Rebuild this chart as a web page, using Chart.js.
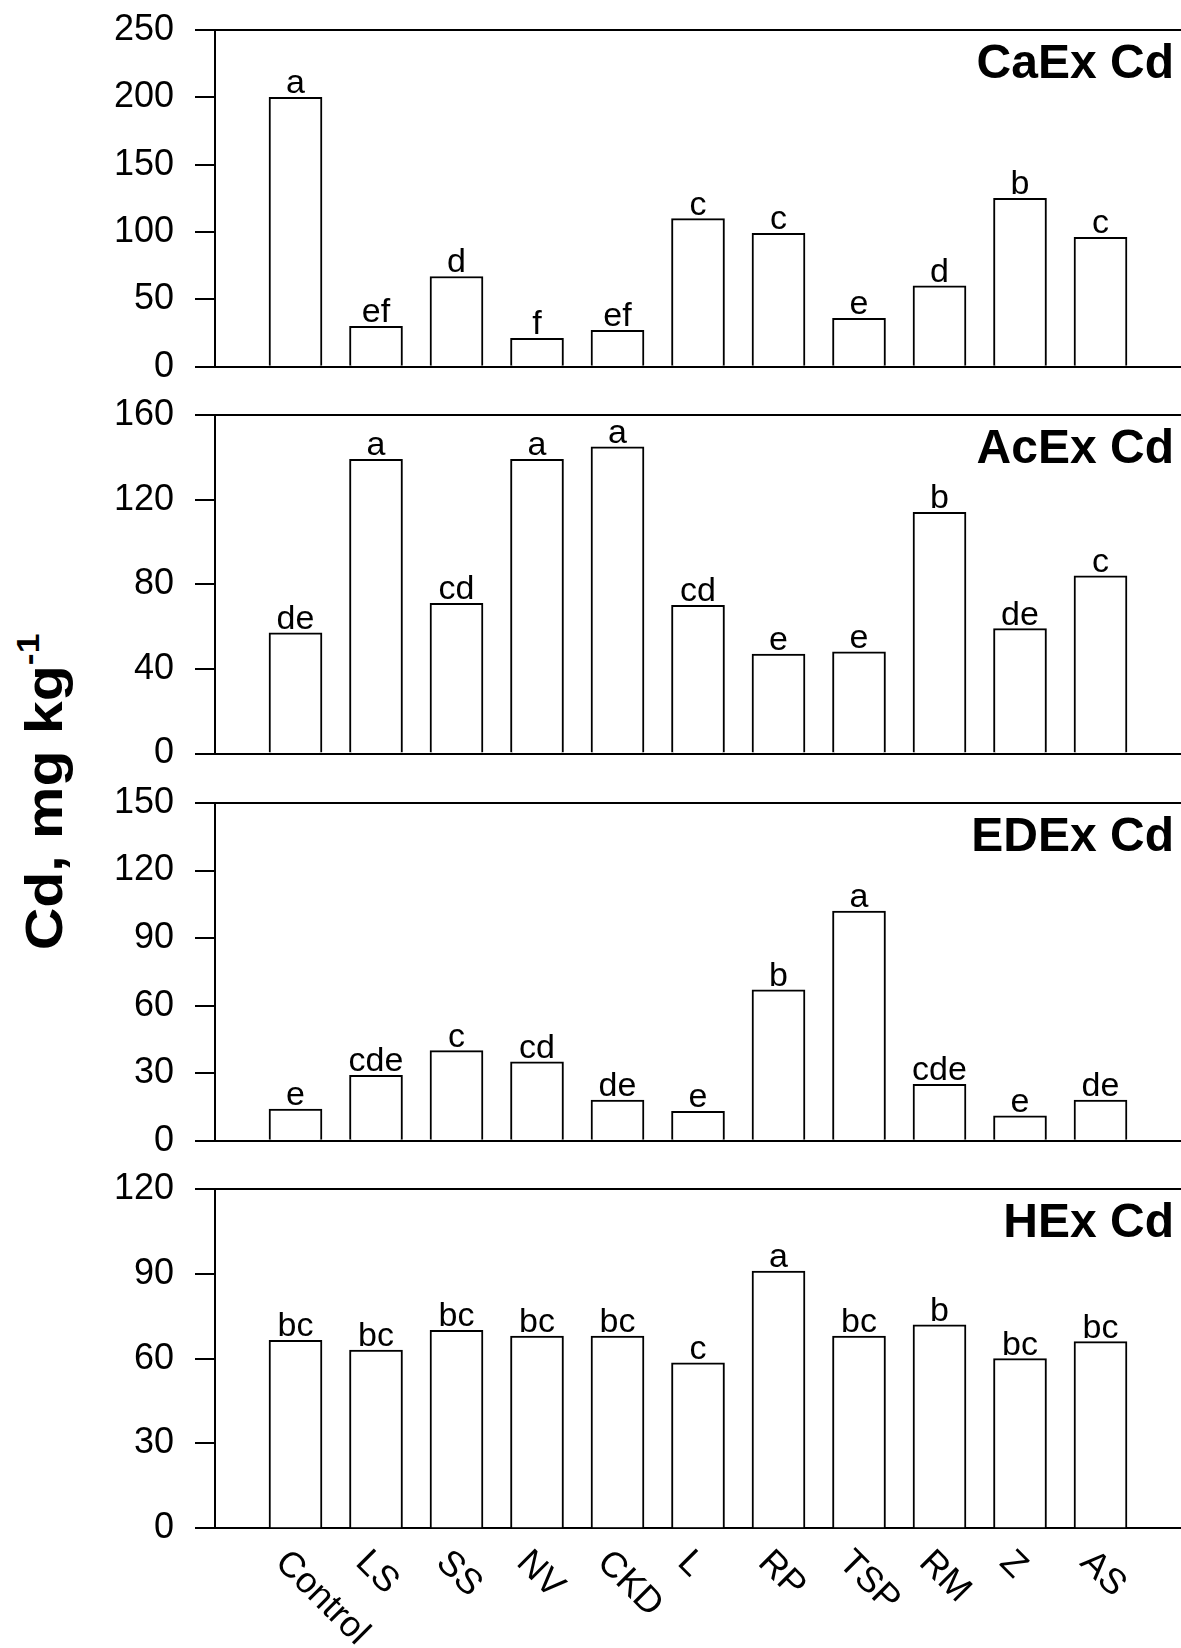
<!DOCTYPE html>
<html>
<head>
<meta charset="utf-8">
<script src="https://cdn.jsdelivr.net/npm/chart.js@4.4.1/dist/chart.umd.min.js"></script>
<style>
  html, body { margin: 0; padding: 0; background: #fff; }
  #wrap { position: relative; width: 1181px; height: 1648px; overflow: hidden; background: #fff; }
  #wrap canvas { position: absolute; left: 0; top: 0; }
  #ytitle {
    position: absolute; left: 45px; top: 792px;
    transform: translate(-50%, -50%) rotate(-90deg) scale(1, 0.88);
    font: bold 59px "Liberation Sans", Arial, sans-serif;
    white-space: nowrap; color: #000; line-height: 1;
  }
  #ytitle sup { font-size: 0.6em; line-height: 0; vertical-align: 0.75em; }
</style>
</head>
<body>
<div id="wrap">
  <div id="ytitle">Cd, mg kg<sup>-1</sup></div>
</div>
<script>
// ---- data ----
const categories = ['Control', 'LS', 'SS', 'NV', 'CKD', 'L', 'RP', 'TSP', 'RM', 'Z', 'AS'];

const caExValues = [200, 30, 67, 21, 27, 110, 99, 36, 60, 125, 96];
const acExValues = [57, 139, 71, 139, 145, 70, 47, 48, 114, 59, 84];
const edExValues = [14, 29, 40, 35, 18, 13, 67, 102, 25, 11, 18];
const hExValues  = [66.5, 63, 70, 68, 68, 58.5, 91, 68, 72, 60, 66];

const caExLetters = ['a', 'ef', 'd', 'f', 'ef', 'c', 'c', 'e', 'd', 'b', 'c'];
const acExLetters = ['de', 'a', 'cd', 'a', 'a', 'cd', 'e', 'e', 'b', 'de', 'c'];
const edExLetters = ['e', 'cde', 'c', 'cd', 'de', 'e', 'b', 'a', 'cde', 'e', 'de'];
const hExLetters  = ['bc', 'bc', 'bc', 'bc', 'bc', 'c', 'a', 'bc', 'b', 'bc', 'bc'];

const panelTitles = ['CaEx Cd', 'AcEx Cd', 'EDEx Cd', 'HEx Cd'];
const yMaxes = [250, 160, 150, 120];
const ySteps = [50, 40, 30, 30];

// ---- layout (styling only) ----
const W = 1181, H = 1648;
const panelTops = [30, 415, 803, 1189];
const panelZeros = [366.7, 753.5, 1140.7, 1528.3];
const FONT = '"Liberation Sans", Arial, Helvetica, sans-serif';

const panels = [
  { values: caExValues, letters: caExLetters },
  { values: acExValues, letters: acExLetters },
  { values: edExValues, letters: edExLetters },
  { values: hExValues,  letters: hExLetters }
];

const paddedLabels = [''].concat(categories, ['']);

function makePanel(idx) {
  const wrap = document.getElementById('wrap');
  const canvas = document.createElement('canvas');
  canvas.width = W; canvas.height = H;
  canvas.style.width = W + 'px'; canvas.style.height = H + 'px';
  wrap.appendChild(canvas);
  const p = panels[idx];
  const maxV = yMaxes[idx];
  const isLast = idx === panels.length - 1;

  const annot = {
    id: 'annot' + idx,
    afterDatasetsDraw(chart) {
      const ctx = chart.ctx;
      const meta = chart.getDatasetMeta(0);
      const area = chart.chartArea;
      ctx.save();
      ctx.fillStyle = '#000';
      // significance letters
      ctx.font = '34px ' + FONT;
      ctx.textAlign = 'center';
      ctx.textBaseline = 'alphabetic';
      for (let i = 0; i < p.letters.length; i++) {
        const el = meta.data[i + 1];
        ctx.fillText(p.letters[i], el.x, el.y - 4);
      }
      // panel title
      ctx.font = 'bold 48px ' + FONT;
      ctx.textAlign = 'right';
      ctx.fillText(panelTitles[idx], area.right - 7, area.top + 48);
      // rotated category labels under the last panel
      if (isLast) {
        const xs = chart.scales.x;
        ctx.font = '36px ' + FONT;
        ctx.textAlign = 'left';
        ctx.textBaseline = 'top';
        for (let i = 0; i < categories.length; i++) {
          const x = xs.getPixelForValue(i + 1);
          ctx.save();
          ctx.translate(x - 2, area.bottom + 16);
          ctx.rotate(Math.PI / 4);
          ctx.fillText(categories[i], 0, 0);
          ctx.restore();
        }
      }
      ctx.restore();
    }
  };

  new Chart(canvas, {
    type: 'bar',
    data: {
      labels: paddedLabels,
      datasets: [{
        data: [null].concat(p.values, [null]),
        backgroundColor: '#ffffff',
        borderColor: '#000000',
        borderWidth: 2,
        barThickness: 53
      }]
    },
    options: {
      responsive: false,
      animation: false,
      devicePixelRatio: 1,
      layout: { padding: { top: panelTops[idx], bottom: H - panelZeros[idx], left: 0, right: 0 } },
      plugins: { legend: { display: false }, tooltip: { enabled: false }, title: { display: false } },
      scales: {
        x: {
          type: 'category',
          offset: false,
          grid: { display: false },
          border: { display: true, color: '#000', width: 2 },
          ticks: { display: false },
          afterFit(s) { s.height = 0; s.paddingLeft = 0; s.paddingRight = 0; }
        },
        y: {
          min: 0,
          max: maxV,
          ticks: {
            stepSize: ySteps[idx],
            color: '#000',
            padding: 21,
            font: { family: FONT, size: 36, lineHeight: 1 }
          },
          grid: {
            drawOnChartArea: true,
            color: (c) => (c.tick && c.tick.value === maxV) ? '#000' : 'rgba(0,0,0,0)',
            tickColor: '#000',
            tickLength: 20,
            lineWidth: 2,
            tickWidth: 2
          },
          border: { display: true, color: '#000', width: 2 },
          afterFit(s) { s.width = 215; s.paddingTop = 0; s.paddingBottom = 0; }
        }
      }
    },
    plugins: [annot]
  });
}

for (let i = 0; i < panels.length; i++) makePanel(i);
</script>
</body>
</html>
